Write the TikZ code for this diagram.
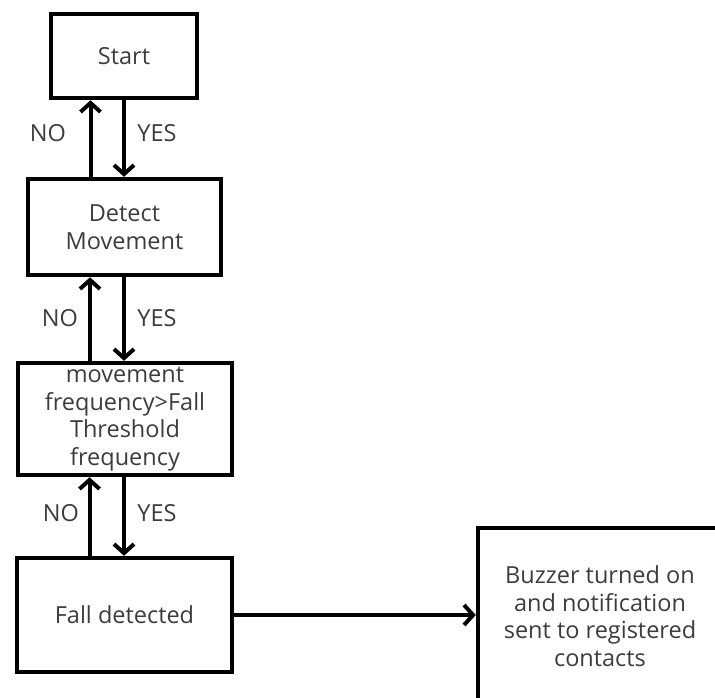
\documentclass[tikz,border=0pt]{standalone}
\usepackage{fontspec}
\setmainfont{Open Sans}
\usetikzlibrary{arrows.meta}
\definecolor{txtgray}{HTML}{3C3C3C}
\begin{document}
\begin{tikzpicture}[x=1pt,y=-1pt,
  box/.style={draw, line width=4.5pt, align=center, text=txtgray,
    font=\fontsize{23.5}{27.5}\selectfont, inner sep=0pt},
  link/.style={line width=4pt, -{Straight Barb[length=9pt,width=20pt]}},
  lbl/.style={text=txtgray, font=\fontsize{23.5}{28}\selectfont}]
\useasboundingbox (0,0) rectangle (715,697);
\node[box, minimum width=146pt, minimum height=84pt] (start) at (124,56) {Start};
\node[box, minimum width=193pt, minimum height=96pt] (detect) at (124.5,227) {Detect\\Movement};
\node[box, minimum width=214pt, minimum height=112pt] (freq) at (125,419)
  {movement\\frequency>Fall\\Threshold\\frequency};
\node[box, minimum width=215pt, minimum height=114pt] (fall) at (124.5,615) {Fall detected};
\node[box, minimum width=244pt, minimum height=176pt] (buzz) at (600,616)
  {Buzzer turned on\\and notification\\sent to registered\\contacts};
% arrows
\draw[link] (start.south) -- (start.south |- detect.north);
\draw[link] ([xshift=-34pt]detect.north) -- ([xshift=-34pt]detect.north |- start.south);
\draw[link] (detect.south -| start.south) -- (start.south |- freq.north);
\draw[link] ([xshift=-35pt]freq.north) -- ([xshift=-35pt]freq.north |- detect.south);
\draw[link] (freq.south -| start.south) -- (start.south |- fall.north);
\draw[link] ([xshift=-35pt]fall.north) -- ([xshift=-35pt]fall.north |- freq.south);
\draw[link] (fall.east) -- (fall.east -| buzz.west);
% labels
\node[lbl] (no1) at (48,133) {NO};
\node[lbl] (yes1) at (157,133) {YES};
\node[lbl] (no2) at (60,318) {NO};
\node[lbl] (yes2) at (157,318) {YES};
\node[lbl] (no3) at (61,513) {NO};
\node[lbl] (yes3) at (157,513) {YES};
\end{tikzpicture}
\end{document}
